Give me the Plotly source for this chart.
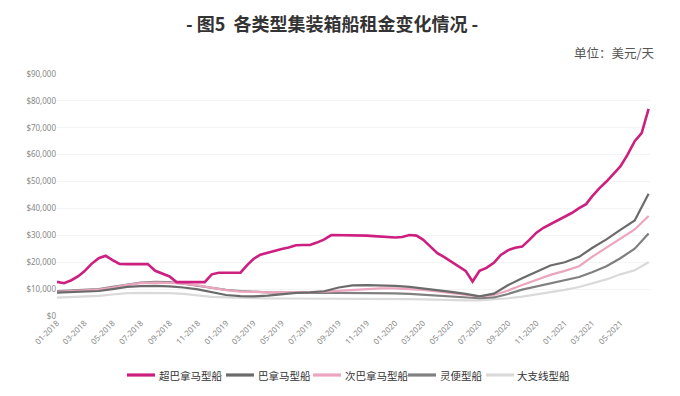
import pandas as pd
import plotly.graph_objects as go

# ---------------- data ----------------
months = pd.date_range("2018-01-01", "2021-07-01", freq="MS")
half_month_dates = []
for d in months:
    half_month_dates.append(d)
    if d < months[-1]:
        half_month_dates.append(d + pd.Timedelta(days=15))

tick_dates = pd.date_range("2018-01-01", "2021-05-01", freq="2MS")
tick_labels = [d.strftime("%m-%Y") for d in tick_dates]

series_names = ["超巴拿马型船", "巴拿马型船", "次巴拿马型船", "灵便型船", "大支线型船"]

super_panamax = [
    12.7, 12.2, 13.3, 14.8, 16.6, 19.3, 21.5, 22.4, 20.8, 19.4,
    19.3, 19.3, 19.3, 19.3, 16.8, 15.7, 14.7, 12.6, 12.6, 12.6,
    12.6, 12.6, 15.5, 16.1, 16.1, 16.1, 16.1, 19.0, 21.2, 22.8,
    23.6, 24.3, 24.9, 25.5, 26.3, 26.4, 26.4, 27.3, 28.5, 30.1,
    30.1, 30.1, 30.1, 30.1, 29.9, 29.7, 29.5, 29.3, 29.2, 29.4,
    30.1, 29.9, 28.4, 26.0, 23.4, 21.9, 20.3, 18.8, 16.8, 12.8,
    16.8, 17.9, 19.8, 22.7, 24.5, 25.4, 25.8, 28.2, 31.0, 32.8,
    34.2, 35.5, 36.8, 38.3, 40.1, 41.6, 44.5, 47.4, 50.0, 52.8,
    55.6, 59.8, 65.0, 68.0, 77.0,
]

panamax = [
    8.7, 8.9, 9.1, 9.3, 10.0, 10.8, 11.1, 11.2, 11.0, 10.6,
    9.9, 8.8, 7.8, 7.4, 7.3, 7.6, 8.2, 8.6, 8.8, 9.2,
    10.6, 11.4, 11.5, 11.4, 11.2, 10.8, 10.3, 9.6, 9.0, 8.2,
    7.3, 8.3, 11.5, 14.0, 16.5, 18.8, 20.0, 22.0, 25.3, 28.5,
    32.0, 35.5, 45.5,
]

sub_panamax = [
    9.0, 9.2, 9.5, 9.8, 10.6, 11.6, 12.2, 12.4, 12.3, 12.0,
    11.4, 10.5, 9.6, 9.1, 8.9, 8.8, 8.8, 8.8, 8.9, 9.1,
    9.4, 9.8, 10.1, 10.3, 10.3, 10.1, 9.7, 9.1, 8.5, 7.9,
    7.3, 7.8, 9.5, 11.5, 13.3, 15.3, 16.8, 18.5, 22.0, 25.5,
    29.0, 32.2, 37.2,
]

handysize = [
    9.3, 9.5, 9.7, 10.0, 10.8, 11.7, 12.4, 12.7, 12.6, 12.0,
    11.3, 10.4, 9.7, 9.3, 9.0, 8.8, 8.7, 8.6, 8.6, 8.6,
    8.6, 8.6, 8.6, 8.5, 8.4, 8.2, 7.9, 7.5, 7.1, 6.8,
    6.6, 6.9, 8.2, 9.8, 11.0, 12.0, 13.2, 14.5, 16.3, 18.5,
    21.5, 25.0, 30.7,
]

feeder = [
    6.8, 7.0, 7.2, 7.5, 8.0, 8.5, 8.6, 8.6, 8.5, 8.2,
    7.6, 7.1, 6.9, 6.7, 6.6, 6.5, 6.5, 6.5, 6.5, 6.5,
    6.5, 6.5, 6.5, 6.5, 6.4, 6.3, 6.2, 6.0, 5.9, 5.8,
    5.8, 6.1, 6.6, 7.2, 8.0, 9.0, 9.7, 10.8, 12.0, 13.6,
    15.5, 17.0, 20.0,
]

y_ticks = [0, 10000, 20000, 30000, 40000, 50000, 60000, 70000, 80000, 90000]

# ---------------- figure ----------------
W, H = 680, 396
PL, PR, PT, PB = 57, 650, 74, 316   # plot area in pixels


def px(x):
    return (x - PL) / (PR - PL)


def py(y):
    return (PB - y) / (PB - PT)


colors = ["#cc1f80", "#6b6b6b", "#eba5bf", "#808080", "#dadada"]
widths = [2.6, 2.2, 2.2, 2.2, 2.2]
xs = [half_month_dates, list(months), list(months), list(months), list(months)]
ys = [super_panamax, panamax, sub_panamax, handysize, feeder]

fig = go.Figure()
for i in [4, 3, 2, 1, 0]:
    fig.add_trace(go.Scatter(
        x=xs[i], y=[v * 1000 for v in ys[i]], mode="lines", name=series_names[i],
        line=dict(color=colors[i], width=widths[i]), showlegend=False,
    ))

# custom legend (swatch start px, text start px)
legend_pos = [(127, 157), (226, 256), (313, 343), (408, 438), (486, 515)]
legend_y = 375
shapes = []
annotations = []
for i, (sx, tx) in enumerate(legend_pos):
    shapes.append(dict(type="line", xref="paper", yref="paper",
                       x0=px(sx), x1=px(sx + 28), y0=py(legend_y), y1=py(legend_y),
                       line=dict(color=colors[i], width=3.2)))
    annotations.append(dict(text=series_names[i], xref="paper", yref="paper",
                            x=px(tx), y=py(legend_y), xanchor="left", yanchor="middle",
                            showarrow=False, font=dict(size=10.5, color="#333333")))

annotations.append(dict(text="<b>- 图5  各类型集装箱船租金变化情况 -</b>",
                        xref="paper", yref="paper", x=px(332), y=py(23),
                        xanchor="center", yanchor="middle", showarrow=False,
                        font=dict(size=18, color="#333333")))
annotations.append(dict(text="单位：美元/天", xref="paper", yref="paper",
                        x=px(656), y=py(53), xanchor="right", yanchor="middle",
                        showarrow=False, font=dict(size=12.5, color="#555555")))

fig.update_layout(
    width=W, height=H,
    margin=dict(l=PL, r=W - PR, t=PT, b=H - PB),
    paper_bgcolor="white", plot_bgcolor="white",
    font=dict(family="Noto Sans CJK SC, Noto Sans, sans-serif", color="#555555"),
    showlegend=False,
    shapes=shapes,
    annotations=annotations,
)

fig.update_xaxes(
    type="date",
    range=[months[0], months[-1] + pd.Timedelta(days=3)],
    tickvals=list(tick_dates), ticktext=tick_labels,
    tickangle=-45, tickfont=dict(size=8, color="#888888", family="Noto Sans"),
    showgrid=False, showline=False, zeroline=False, ticks="",
)
fig.update_yaxes(
    range=[0, 90000], tickvals=y_ticks,
    ticktext=[f"${v:,}" for v in y_ticks],
    tickfont=dict(size=8, color="#888888", family="Noto Sans"),
    showgrid=True, gridcolor="#f4f4f4", gridwidth=1,
    zeroline=False, showline=False, ticks="",
)

fig.write_html("out.html", config={"displayModeBar": False},
               post_script="document.body.style.margin='0';")
